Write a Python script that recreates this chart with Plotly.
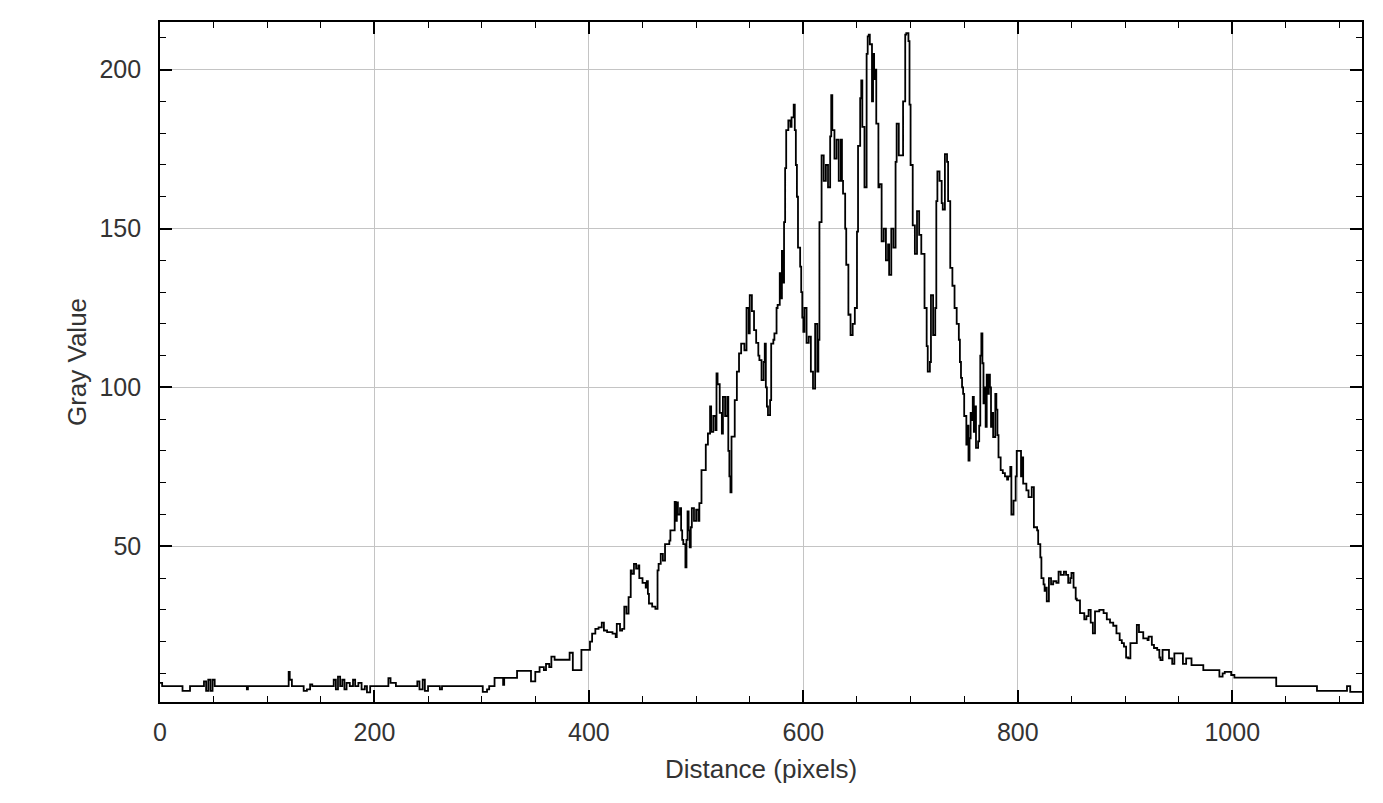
import plotly.graph_objects as go

# Profile samples (distance in pixels, gray value)
distance = [0, 2, 20, 21, 27, 28, 40, 41, 43, 45, 47, 49, 51, 80, 81, 82, 119, 120, 121, 123,
            133, 134, 137, 140, 142, 161, 162, 164, 166, 168, 170, 172, 174, 177, 180, 182, 185, 188, 191, 193,
            196, 212, 213, 215, 220, 239, 240, 242, 245, 247, 250, 260, 261, 263,
            301, 304, 305, 307, 312, 318, 320, 321, 332, 333, 343, 346, 350, 354, 358, 360, 363, 365, 368, 381,
            382, 385, 392, 393, 398, 401, 403, 406, 409, 412, 414, 417, 420, 422, 425, 426, 429, 431, 433, 435,
            437, 439, 440, 442, 444, 446, 447, 450, 453, 454, 455, 456, 459, 462, 464, 465, 467, 469, 471, 475,
            476, 479, 480, 481, 482, 483, 485, 486, 487, 488, 490, 491, 492, 493, 494, 495, 496, 498, 500, 502,
            503, 505, 508, 509, 511, 513, 514, 516, 518, 519, 520, 522, 524, 525, 527, 529, 530, 531, 532, 533,
            536, 538, 540, 542, 545, 547, 549, 550, 552, 554, 556, 558, 559, 561, 563, 564, 565, 566, 567, 569,
            570, 572, 573, 575, 576, 578, 579, 580, 581, 582, 583, 584, 586, 588, 589, 591, 592, 593, 594, 595,
            597, 598, 599, 600, 601, 603, 605, 607, 609, 611, 613, 614, 615, 617, 619, 621, 623, 625, 626, 627,
            629, 631, 633, 635, 636, 637, 639, 640, 642, 643, 644, 646, 648, 650, 651, 653, 654, 655, 657, 659,
            660, 661, 662, 664, 665, 666, 667, 668, 670, 671, 673, 675, 677, 679, 680, 682, 684, 686, 687, 689,
            692, 693, 695, 696, 698, 699, 700, 702, 704, 706, 708, 710, 713, 715, 716, 718, 719, 721, 723, 724,
            725, 727, 729, 730, 732, 734, 735, 737, 739, 741, 743, 745, 746, 747, 748, 749, 750, 752, 753, 754,
            755, 756, 757, 758, 759, 760, 761, 763, 764, 765, 766, 767, 768, 769, 770, 771, 772, 773, 774, 775,
            776, 777, 779, 780, 781, 782, 784, 786, 788, 790, 791, 793, 794, 796, 798, 799, 802, 803, 804, 805,
            808, 810, 812, 813, 815, 818, 819, 821, 822, 824, 825, 826, 827, 829, 831, 833, 836, 838, 840, 843,
            845, 847, 849, 850, 852, 854, 855, 858, 862, 864, 866, 868, 870, 872, 876, 880, 883, 886, 889, 892,
            895, 897, 899, 901, 903, 905, 910, 911, 913, 917, 921, 922, 925, 927, 930, 932, 933, 935, 940, 941,
            944, 946, 952, 954, 957, 960, 962, 971, 973, 987, 988, 991, 993, 998, 999, 1002, 1040, 1041, 1077, 1079,
            1105, 1107, 1110, 1121]

gray_value = [7, 6, 6, 4.5, 4.5, 6, 6, 7.5, 4.5, 8, 4.5, 8, 6, 6, 5, 6, 6, 10.5, 8, 6,
              6, 4.5, 5, 6.5, 6, 6, 8, 5, 9, 6, 8, 5, 7, 6, 8, 6, 7, 5, 6, 4,
              6, 6, 8.5, 7, 6, 6, 7.5, 5, 8, 4.5, 6, 6, 5, 6,
              4.2, 4.2, 5, 6, 8.6, 8.6, 6.4, 8.6, 8.6, 10.8, 10.8, 7.5, 10.5, 12, 11, 13, 12, 15.3, 14.3, 14.3,
              16.5, 11, 11, 17.4, 17.4, 20, 22.5, 24, 24.5, 26, 23.5, 23, 23, 22.5, 21.4, 25.6, 23.5, 24, 31, 28.8,
              34, 42.4, 41.3, 44.5, 43, 44, 40, 38.5, 37, 39, 35, 32, 31, 30.3, 42.4, 44.5, 47.6, 45.5, 50.7, 51.8,
              55, 55, 64, 58, 63.8, 60, 62, 55, 52, 50.7, 43.4, 52, 61, 55, 49.7, 56, 62, 58, 61.5, 58,
              63.6, 74, 74, 82, 85.5, 94, 86, 91, 86.6, 104.4, 101, 92, 85.5, 97, 91, 97, 80, 72, 67, 84.5,
              96, 105, 110.7, 113.8, 111.7, 125, 117, 129, 124, 118, 114, 110, 108.6, 102.3, 108, 113.8, 100, 94, 91.3, 96,
              113.8, 115, 117, 125, 126, 136, 128, 143, 133, 152, 169, 181, 184, 182, 185, 189, 181, 170, 160, 144,
              138, 130, 122, 117.5, 125, 114, 116, 105, 99.6, 120, 105, 115, 152, 173, 165, 170, 163, 179, 192, 181,
              172, 178, 165, 178, 165, 161, 150, 138.6, 122.8, 123, 116.5, 120, 125, 149, 176, 191, 196.6, 182, 163, 205,
              210.5, 211, 208, 190, 205, 197, 200, 183, 163, 164, 146, 150, 140, 145, 135.4, 150, 144, 171, 183, 173,
              173, 190, 211, 211.5, 209, 189, 170, 151, 142, 155.5, 148, 142, 125, 113, 105, 108, 129, 116.5, 125, 158.6,
              168, 165, 158, 156, 173.4, 171, 158.6, 137.6, 132, 125, 120, 115, 108, 103, 100, 98, 91, 82, 88, 77,
              84, 92, 89.7, 97, 86, 94, 81, 83, 88, 110, 117, 107.6, 95, 100, 87.6, 104, 98, 104, 100, 87.6,
              92, 84.4, 98, 93, 85, 78, 74, 73, 72, 71, 72, 75, 60, 64.4, 72, 80, 80, 72, 78, 69.7,
              67.6, 65.5, 65.5, 68.6, 56, 55, 50.7, 46.5, 40, 38, 36, 37, 32.7, 40, 38, 39, 38.5, 42, 41, 42,
              41, 38.5, 40, 41.6, 37, 33.5, 33, 29, 27, 28, 30, 26, 22.6, 29.5, 30, 29, 27, 26, 25, 22.6,
              20.5, 19.5, 18.4, 15, 14.7, 19.5, 19.5, 25.3, 23, 21, 20.5, 21.6, 19, 18, 17.4, 15, 14.2, 17.4, 17.4, 14.7,
              13, 16.3, 16.3, 13, 14.7, 14.7, 12.6, 12.6, 11, 11, 9, 10, 10.5, 10.5, 9.5, 8.7, 8.7, 6, 6, 4.5,
              4.5, 6, 4.2, 4.2]

x_ticks = [0, 200, 400, 600, 800, 1000]
y_ticks = [50, 100, 150, 200]

FONT = "Liberation Sans, Arial, sans-serif"

fig = go.Figure()
fig.add_trace(go.Scatter(
    x=distance, y=gray_value, mode="lines",
    line=dict(color="black", width=1.8, shape="hv"),
    showlegend=False, hoverinfo="x+y"))

axis_common = dict(
    showline=True, linecolor="black", linewidth=1.6, mirror="ticks",
    ticks="inside", ticklen=12, tickwidth=1.6, tickcolor="black",
    showgrid=True, gridcolor="#c4c4c4", gridwidth=1.4,
    zeroline=False, automargin=False,
    tickfont=dict(family=FONT, size=25, color="#333333"),
)

fig.update_xaxes(
    **axis_common,
    range=[0, 1121], tickvals=x_ticks, ticktext=[str(v) for v in x_ticks],
    minor=dict(dtick=50, tick0=0, ticks="inside", ticklen=6, tickwidth=1.4,
               tickcolor="black", showgrid=False),
    ticklabelstandoff=7,
    title=dict(text="Distance (pixels)", font=dict(family=FONT, size=26, color="#333333"),
               standoff=15),
)
fig.update_yaxes(
    **axis_common,
    range=[1, 215], tickvals=y_ticks, ticktext=[str(v) for v in y_ticks],
    minor=dict(dtick=10, tick0=0, ticks="inside", ticklen=6, tickwidth=1.4,
               tickcolor="black", showgrid=False),
    ticklabelstandoff=12,
    title=dict(text="Gray Value", font=dict(family=FONT, size=26, color="#333333"),
               standoff=5),
)

# page body adds an 8px offset; margins compensate so the plot frame lands at 160..1362 x 22..702
fig.update_layout(
    width=1383, height=803,
    margin=dict(l=152, r=29, t=14, b=109, pad=0),
    paper_bgcolor="white", plot_bgcolor="white",
)

fig.write_html("out.html")
